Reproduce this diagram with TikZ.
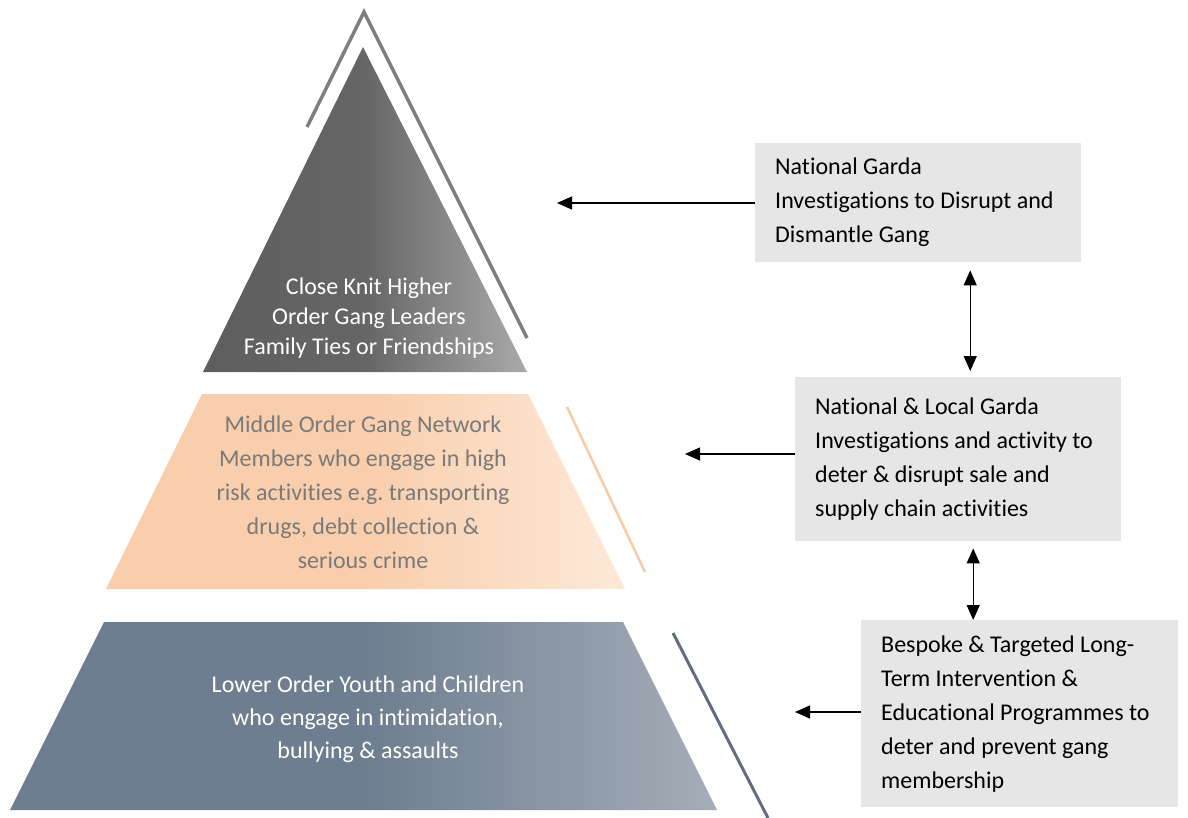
\documentclass[tikz,border=0pt]{standalone}
\usepackage{fontspec}
\setmainfont{Carlito}[Ligatures={NoCommon}]
\usetikzlibrary{arrows.meta}
\frenchspacing

\definecolor{boxgray}{HTML}{E7E6E6}
\definecolor{topdark}{HTML}{5E5E5E}
\definecolor{toplight}{HTML}{AAAAAA}
\definecolor{topline}{HTML}{7F7F7F}
\definecolor{middark}{HTML}{F9CEAC}
\definecolor{midlight}{HTML}{FDE9D8}
\definecolor{midline}{HTML}{F8CBA6}
\definecolor{midtext}{HTML}{7A7A7A}
\definecolor{lowdark}{HTML}{6E7D8F}
\definecolor{lowlight}{HTML}{A5AEB8}
\definecolor{lowline}{HTML}{5F6F81}

\begin{document}
\begin{tikzpicture}[x=1pt,y=-1pt,>={Triangle[length=15pt,width=13pt]}]
    \tikzstyle{box}=[fill=boxgray, anchor=north west, inner xsep=20pt, inner ysep=0pt, align=flush left, font=\fontsize{24}{34}\selectfont]
    \tikzstyle{tier}=[align=center, inner sep=0pt, font=\fontsize{24}{34}\selectfont]
    \tikzstyle{link}=[->, line width=1.3pt, black]
    \tikzstyle{both}=[<->, line width=1.3pt, black]

    \useasboundingbox (0,0) rectangle (1188,818);

    % Pyramid tiers
    \shade[left color=topdark, right color=toplight, middle color=topdark!90!toplight]
        (203,372) -- (363,47) -- (527,372) -- cycle;
    \shade[left color=middark, right color=midlight, middle color=middark]
        (106,589) -- (202,394) -- (528,394) -- (625,589) -- cycle;
    \shade[left color=lowdark, right color=lowlight, middle color=lowdark]
        (10,810) -- (104,622) -- (623,622) -- (717,810) -- cycle;

    % side strokes
    \draw[topline, line width=3.5pt] (307,127) -- (364,12) -- (527,338);
    \draw[midline, line width=2.5pt] (567,407) -- (645,572);
    \draw[lowline, line width=3pt] (673,633) -- (768,818);

    \node[tier, text=white, font=\fontsize{24}{30}\selectfont] (top) at (369,318)
        {Close Knit Higher\\Order Gang Leaders\\Family Ties or Friendships};
    \node[tier, text=midtext] (mid) at (363,492)
        {Middle Order Gang Network\\Members who engage in high\\risk activities e.g. transporting\\drugs, debt collection \&\\serious crime};
    \node[tier, text=white, font=\fontsize{24}{33}\selectfont] (low) at (368,719)
        {Lower Order Youth and Children\\who engage in intimidation,\\bullying \& assaults};

    % Garda boxes
    \node[box, text width=286pt, minimum height=119pt] (natgarda) at (755,143)
        {National Garda\\Investigations to Disrupt and\\Dismantle Gang};
    \node[box, text width=286pt, minimum height=164pt] (localgarda) at (795,377)
        {National \& Local Garda\\Investigations and activity to\\deter \& disrupt sale and\\supply chain activities};
    \node[box, text width=277pt, minimum height=187pt] (bespoke) at (861,620)
        {Bespoke \& Targeted Long-\\Term Intervention \&\\Educational Programmes to\\deter and prevent gang\\membership};

    \coordinate (topTip) at (557,203);
    \coordinate (midTip) at (685,454);
    \coordinate (lowTip) at (795,712);

    % Outgoing links
    \draw[link] (natgarda.west |- topTip) -- (topTip);
    \draw[link] (localgarda.west |- midTip) -- (midTip);
    \draw[link] (bespoke.west |- lowTip) -- (lowTip);

    % between the boxes
    \draw[both, shorten <=8pt, shorten >=6pt] ([xshift=52pt]natgarda.south) -- ([xshift=52pt]natgarda.south |- localgarda.north);
    \draw[both, shorten <=7pt, shorten >=0pt] ([xshift=15pt]localgarda.south) -- ([xshift=15pt]localgarda.south |- bespoke.north);

\end{tikzpicture}
\end{document}
